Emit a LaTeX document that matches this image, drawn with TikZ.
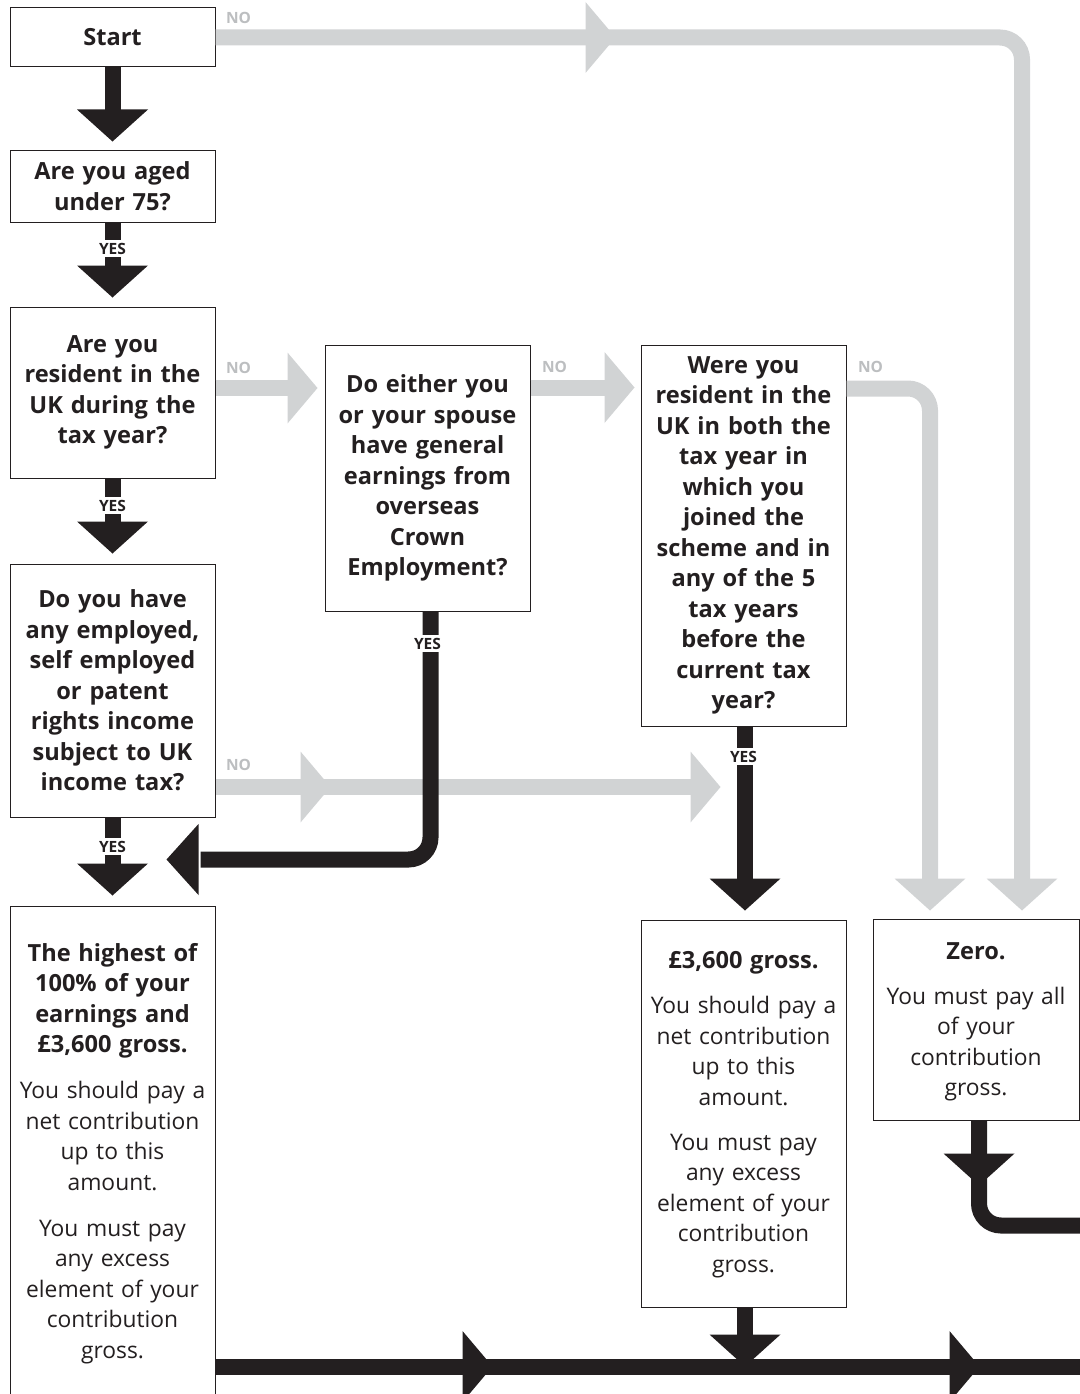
\documentclass[tikz,border=0pt]{standalone}
\usepackage{fontspec}
\setmainfont{Open Sans}
\usetikzlibrary{calc}
\definecolor{ink}{HTML}{231F20}
\definecolor{pale}{HTML}{D1D3D4}
\definecolor{notext}{HTML}{BCBEC0}
\begin{document}
\begin{tikzpicture}[x=1pt,y=-1pt,
  box/.style={draw=ink, line width=1pt, fill=white, minimum width=205pt, text width=205pt, inner xsep=0pt, inner ysep=0pt, align=center, text=ink},
  qbox/.style={box, font=\fontsize{23.6}{30.5}\selectfont\bfseries},
  rtext/.style={text width=205pt, align=center, inner sep=0pt, text=ink, font=\fontsize{22.8}{30.5}\selectfont},
  blk/.style={draw=ink, line width=16pt},
  gry/.style={draw=pale, line width=16pt},
  lab/.style={font=\fontsize{15.5}{16}\selectfont\bfseries, inner xsep=1pt, inner ysep=2.5pt},
  nolab/.style={lab, text=notext},
  yeslab/.style={lab, text=ink, fill=white},
  pics/headD/.style={code={\fill[#1] (0,0) -- (-35.5,-32) -- (35.5,-32) -- cycle;}},
  pics/headR/.style={code={\fill[#1] (0,0) -- (-30,-35.5) -- (-30,35.5) -- cycle;}},
  pics/headL/.style={code={\fill[#1] (0,0) -- (32,-35.5) -- (32,35.5) -- cycle;}}
]
\useasboundingbox (0,0) rectangle (1079,1394);

% ---------- boxes ----------
\node[qbox, minimum height=59pt] (start) at (112.5,37.5) {Start};
\node[qbox, minimum height=72pt] (aged) at (112.5,186) {Are you aged\\under 75?};
\node[qbox, minimum height=171pt] (res) at (112.5,392.5) {Are you\\resident in the\\UK during the\\tax year?};
\node[qbox, minimum height=253pt] (inc) at (112.5,690.5) {Do you have\\any employed,\\self employed\\or patent\\rights income\\subject to UK\\income tax?};
\node[qbox, minimum height=266pt] (crown) at (427.5,478) {Do either you\\or your spouse\\have general\\earnings from\\overseas\\Crown\\Employment?};
\node[qbox, minimum height=381pt] (both) at (743.5,535.5) {Were you\\resident in the\\UK in both the\\tax year in\\which you\\joined the\\scheme and in\\any of the 5\\tax years\\before the\\current tax\\year?};
\node[box, minimum height=500pt] (high) at (112.5,1156) {};
\node[box, minimum height=387pt] (gross) at (743.5,1113.5) {};
\node[box, minimum height=201pt, minimum width=206pt, text width=206pt] (zero) at (976,1019.5) {};

% ---------- grey (NO) connectors ----------
\draw[gry, rounded corners=22pt] (start.east) -| ($(zero.north)+(46,-35)$);
\pic at ($(start.east)+(400,0)$) {headR=pale};
\pic at ($(zero.north)+(46,-8)$) {headD=pale};

\coordinate (g2a) at ($(res.east)+(0,-4.5)$);
\draw[gry] (g2a) -- ($(g2a -| crown.west)+(-33,0)$);
\pic at ($(g2a -| crown.west)+(-7,0)$) {headR=pale};

\coordinate (g3a) at ($(crown.north east)+(0,43)$);
\draw[gry] (g3a) -- ($(g3a -| both.west)+(-32,0)$);
\pic at ($(g3a -| both.west)+(-6,0)$) {headR=pale};

\draw[gry, rounded corners=22pt] ($(both.north east)+(0,44)$) -| ($(zero.north)+(-46,-35)$);
\pic at ($(zero.north)+(-46,-8)$) {headD=pale};

\coordinate (g5a) at ($(inc.east)+(0,96.5)$);
\draw[gry] (g5a) -- ($(g5a -| both.south)+(-49,0)$);
\pic at ($(g5a)+(115,0)$) {headR=pale};
\pic at ($(g5a -| both.south)+(-23,0)$) {headR=pale};

% ---------- black (YES) connectors ----------
\draw[blk] (start.south) -- ($(aged.north)+(0,-36)$);
\pic at ($(aged.north)+(0,-8)$) {headD=ink};

\draw[blk] (aged.south) -- ($(res.north)+(0,-37)$);
\pic at ($(res.north)+(0,-9)$) {headD=ink};
\node[yeslab] at ($(aged.south)+(0,26)$) {YES};

\draw[blk] (res.south) -- ($(inc.north)+(0,-38)$);
\pic at ($(inc.north)+(0,-10)$) {headD=ink};
\node[yeslab] at ($(res.south)+(0,27)$) {YES};

\draw[blk] (inc.south) -- ($(high.north)+(0,-38)$);
\pic at ($(high.north)+(0,-10)$) {headD=ink};
\node[yeslab] at ($(inc.south)+(0,29)$) {YES};

\draw[blk, rounded corners=22pt] ([xshift=3pt]crown.south) |- ($(high.north east)+(-15,-46)$);
\pic at ($(high.north east)+(-49,-46)$) {headL=ink};
\node[yeslab] at ($(crown.south)+(0,32)$) {YES};

\draw[blk] ([xshift=1.5pt]both.south) -- ($(gross.north)+(1.5,-37)$);
\pic at ($(gross.north)+(1.5,-9)$) {headD=ink};
\node[yeslab] at ($(both.south)+(0,30)$) {YES};

\draw[blk, rounded corners=22pt] ([xshift=3pt]zero.south) -- ++(0,105) -- ++(125,0);
\pic at ($(zero.south)+(3,65)$) {headD=ink};

\draw[blk] ($(high.south east)+(0,-40)$) -- ++(890,0);
\pic at ($(high.south east)+(277,-40)$) {headR=ink};
\pic at ($(high.south east)+(764,-40)$) {headR=ink};

\draw[blk] ([xshift=1.5pt]gross.south) -- ++(0,28);
\pic at ($(gross.south)+(1.5,59)$) {headD=ink};

% ---------- NO labels ----------
\node[nolab] at ($(start.east)+(23,-19.5)$) {NO};
\node[nolab] at ($(res.east)+(23,-25)$) {NO};
\node[nolab] at ($(crown.north east)+(24,22)$) {NO};
\node[nolab] at ($(both.north east)+(24,22)$) {NO};
\node[nolab] at ($(inc.east)+(23,74.5)$) {NO};

% ---------- result texts ----------
\node[rtext, anchor=north] (hightxt) at ($(high.north)+(0,37.5)$) {\fontsize{23.6}{30.5}\selectfont\bfseries The highest of\\100\% of your\\earnings and\\£3,600 gross.\\[15.5pt]\fontsize{22.8}{30.5}\selectfont\mdseries You should pay a\\net contribution\\up to this\\amount.\\[15.5pt]You must pay\\any excess\\element of your\\contribution\\gross.};
\node[rtext, anchor=north] (grosstxt) at ($(gross.north)+(0,32)$) {\fontsize{23.6}{30.5}\selectfont\bfseries £3,600 gross.\\[14.5pt]\fontsize{22.8}{30.5}\selectfont\mdseries You should pay a\\net contribution\\up to this\\amount.\\[14.5pt]You must pay\\any excess\\element of your\\contribution\\gross.};
\node[rtext, anchor=north, text width=206pt] (zerotxt) at ($(zero.north)+(0,23.5)$) {\fontsize{23.6}{30.5}\selectfont\bfseries Zero.\\[14.5pt]\fontsize{22.8}{30.5}\selectfont\mdseries You must pay all\\of your\\contribution\\gross.};
\end{tikzpicture}
\end{document}
